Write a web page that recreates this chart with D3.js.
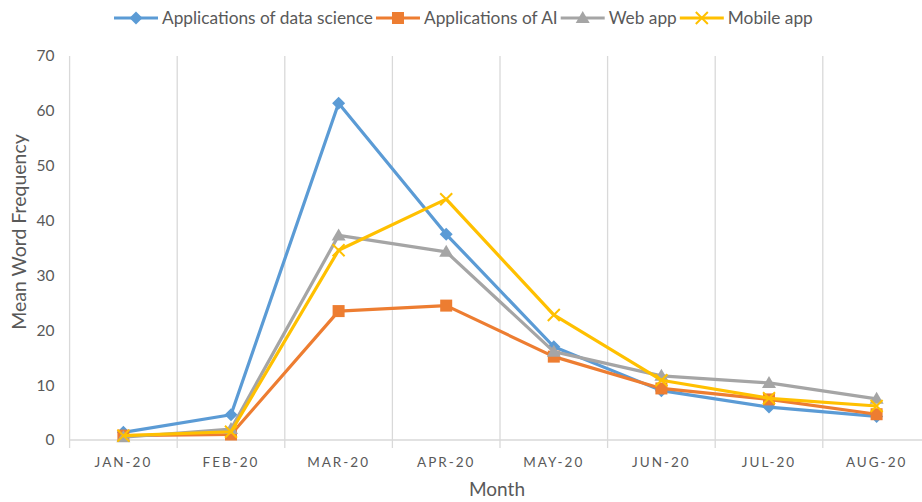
<!DOCTYPE html>
<html><head><meta charset="utf-8">
<script src="https://cdn.jsdelivr.net/npm/d3@7"></script>
<style>body{margin:0;background:#fff}svg{display:block}</style>
</head><body>
<svg id="c" width="922" height="502"></svg>
<script>
const months = ["JAN-20","FEB-20","MAR-20","APR-20","MAY-20","JUN-20","JUL-20","AUG-20"];
const dataScience = [1.4, 4.6, 61.4, 37.5, 17.0, 9.0, 6.0, 4.3];
const ai = [0.8, 1.0, 23.5, 24.5, 15.2, 9.4, 7.4, 4.7];
const webApp = [0.5, 2.0, 37.3, 34.3, 16.1, 11.7, 10.4, 7.5];
const mobileApp = [0.8, 1.5, 34.6, 43.9, 22.8, 10.9, 7.6, 6.2];
const yTicks = [0,10,20,30,40,50,60,70];
const seriesNames = ["Applications of data science","Applications of AI","Web app","Mobile app"];
const seriesColors = ["#5B9BD5","#ED7D31","#A5A5A5","#FFC000"];
const seriesMarkers = ["diamond","square","triangle","x"];

(function(){
const series = [dataScience, ai, webApp, mobileApp].map((v,i)=>({name:seriesNames[i],color:seriesColors[i],marker:seriesMarkers[i],values:v}));

const svg = d3.select("#c");
const pLeft = 69.6, pTop = 56, pBottom = 440, bandW = 107.6;
const x = d3.scaleBand().domain(months).range([pLeft, pLeft + bandW*months.length]).paddingInner(0).paddingOuter(0);
const y = d3.scaleLinear().domain([0,70]).range([pBottom, pTop]);
const font = "Lato, 'Open Sans', sans-serif";
const txt = "#595959";

const g = svg.append("g");
months.forEach((m,i)=>{
  if(i>0){
    g.append("line").attr("x1",x(m)).attr("x2",x(m)).attr("y1",pTop).attr("y2",pBottom+8)
      .attr("stroke","#D9D9D9").attr("stroke-width",1.3);
  }
});
g.append("line").attr("x1",pLeft).attr("x2",pLeft).attr("y1",pTop).attr("y2",pBottom+8).attr("stroke","#D9D9D9").attr("stroke-width",1.3);
g.append("line").attr("x1",pLeft).attr("x2",922).attr("y1",pBottom).attr("y2",pBottom).attr("stroke","#D9D9D9").attr("stroke-width",1.3);

const yAxis = d3.axisLeft(y).tickValues(yTicks).tickSize(0).tickPadding(15);
const ya = svg.append("g").attr("transform",`translate(${pLeft},0)`).call(yAxis);
ya.select(".domain").remove();
ya.selectAll("text").attr("font-family",font).attr("font-size",15.5).attr("fill",txt);

const xAxis = d3.axisBottom(x).tickSize(0).tickPadding(17);
const xa = svg.append("g").attr("transform",`translate(0,${pBottom})`).call(xAxis);
xa.select(".domain").remove();
xa.selectAll("text").attr("font-family",font).attr("font-size",13.5).attr("fill",txt).attr("letter-spacing","2px");

svg.append("text").attr("x",497).attr("y",496).attr("text-anchor","middle")
  .attr("font-family",font).attr("font-size",19).attr("fill",txt).text("Month");
svg.append("text").attr("transform",`translate(26,232) rotate(-90)`).attr("text-anchor","middle")
  .attr("font-family",font).attr("font-size",19.5).attr("fill",txt).text("Mean Word Frequency");

function drawMarker(sel, type, color, cx, cy){
  if(type==="diamond"){
    sel.append("path").attr("d",`M${cx},${cy-6.5}L${cx+6.5},${cy}L${cx},${cy+6.5}L${cx-6.5},${cy}Z`).attr("fill",color);
  } else if(type==="square"){
    sel.append("rect").attr("x",cx-6).attr("y",cy-6).attr("width",12).attr("height",12).attr("fill",color);
  } else if(type==="triangle"){
    sel.append("path").attr("d",`M${cx},${cy-7}L${cx+7},${cy+5}L${cx-7},${cy+5}Z`).attr("fill",color);
  } else if(type==="x"){
    sel.append("path").attr("d",`M${cx-6},${cy-6}L${cx+6},${cy+6}M${cx-6},${cy+6}L${cx+6},${cy-6}`).attr("stroke",color).attr("stroke-width",2);
  }
}

const line = d3.line().x((d,i)=>x(months[i])+x.bandwidth()/2).y(d=>y(d));
series.forEach(s=>{
  const gs = svg.append("g");
  gs.append("path").attr("d",line(s.values)).attr("fill","none").attr("stroke",s.color).attr("stroke-width",3.2).attr("stroke-linejoin","round");
  s.values.forEach((v,i)=>drawMarker(gs,s.marker,s.color,x(months[i])+x.bandwidth()/2,y(v)));
});

let lx = 114;
const ly = 18;
series.forEach((s,i)=>{
  const lg = svg.append("g");
  lg.append("line").attr("x1",lx).attr("x2",lx+44).attr("y1",ly).attr("y2",ly).attr("stroke",s.color).attr("stroke-width",3);
  drawMarker(lg,s.marker,s.color,lx+22,ly);
  const t = lg.append("text").attr("x",lx+48).attr("y",ly+6).attr("font-family",font).attr("font-size",17.3).attr("fill",txt).text(s.name);
  lx = lx + 48 + t.node().getComputedTextLength() + 3;
});
})();
</script>
</body></html>
